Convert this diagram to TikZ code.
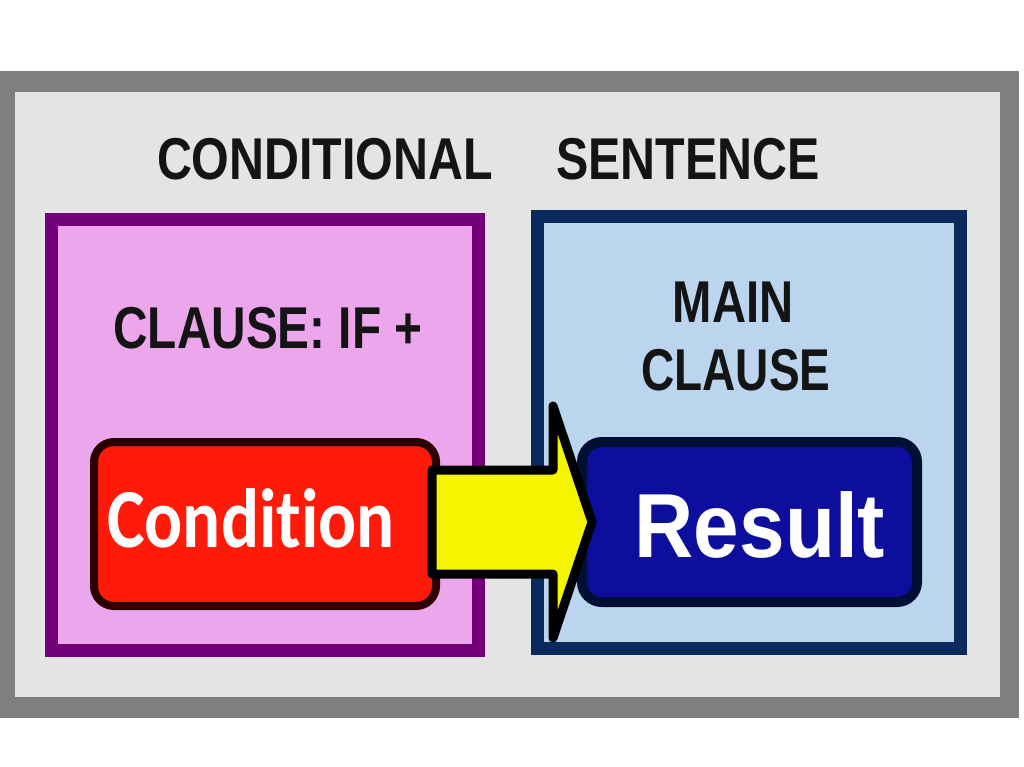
\documentclass[tikz,border=0pt]{standalone}
\usepackage{fontspec}
\usepackage{graphicx}
\usetikzlibrary{calc}
\newfontfamily\arialfont{Liberation Sans}
\newfontfamily\carlfont{Carlito}[Ligatures=NoCommon]
\definecolor{framegray}{HTML}{7F7F7F}
\definecolor{panelgray}{HTML}{E4E4E4}
\definecolor{purpleedge}{HTML}{730079}
\definecolor{pinkfill}{HTML}{ECA6EC}
\definecolor{navyedge}{HTML}{0B2A5C}
\definecolor{bluefill}{HTML}{BBD5EE}
\definecolor{condred}{HTML}{FF1A0A}
\definecolor{condedge}{HTML}{2A0000}
\definecolor{resblue}{HTML}{0E0E9E}
\definecolor{resedge}{HTML}{001035}
\definecolor{arrowyellow}{HTML}{F5F500}
\definecolor{headtext}{HTML}{141414}
\begin{document}
\begin{tikzpicture}[x=1pt,y=-1pt,
  heading/.style={inner sep=0pt, anchor=base, text=headtext,
    font=\arialfont\bfseries\fontsize{59}{68}\selectfont},
  clausebox/.style={line width=13pt},
  pill/.style={rounded corners=20pt, inner sep=0pt},
  bigarrow/.style={draw=black, fill=arrowyellow, line width=9pt, line join=round}]
\useasboundingbox (0,0) rectangle (1024,767);
\fill[white] (0,0) rectangle (1024,767);
% outer frame
\fill[framegray] (0,71) rectangle (1019,718);
\fill[panelgray] (15,92) rectangle (1000,697);
% title
\node[heading] (t1) at (325,180) {\scalebox{0.82}[1]{CONDITIONAL}};
\node[heading] (t2) at (688,180) {\scalebox{0.82}[1]{SENTENCE}};
% clause panels
\draw[clausebox, draw=purpleedge, fill=pinkfill] (51.5,219.5) rectangle (478.5,650.5);
\draw[clausebox, draw=navyedge, fill=bluefill] (537,217) rectangle (960.5,648.5);
\node[heading] (ifc) at (268,348) {\scalebox{0.81}[1]{CLAUSE: IF +}};
\node[heading] (main1) at (733,322) {\scalebox{0.8}[1]{MAIN}};
\node[heading] (main2) at (736,390) {\scalebox{0.78}[1]{CLAUSE}};
% condition and result boxes
\node[pill, draw=condedge, fill=condred, line width=8pt,
      minimum width=342pt, minimum height=164pt] (cond) at (265,524) {};
\node[inner sep=0pt, anchor=base, text=white,
      font=\carlfont\bfseries\fontsize{84}{90}\selectfont] (condtext) at (251,547)
      {\scalebox{0.845}[1]{Condition}};
\node[pill, draw=resedge, fill=resblue, line width=10pt,
      minimum width=335pt, minimum height=160pt] (res) at (749.5,522) {};
% arrow from condition to result
\draw[bigarrow]
  ($(cond.east)+(-8,-54)$) -- ($(res.west)+(-24,-52)$)
  -- ($(res.west)+(-24,-116)$) -- ($(res.west)+(15,0)$)
  -- ($(res.west)+(-24,116)$) -- ($(res.west)+(-24,52)$)
  -- ($(cond.east)+(-8,50)$) -- cycle;
\node[inner sep=0pt, anchor=base, text=white,
      font=\arialfont\bfseries\fontsize{91}{96}\selectfont] (restext) at (760,557)
      {\scalebox{0.9}[1]{Result}};
\end{tikzpicture}
\end{document}
